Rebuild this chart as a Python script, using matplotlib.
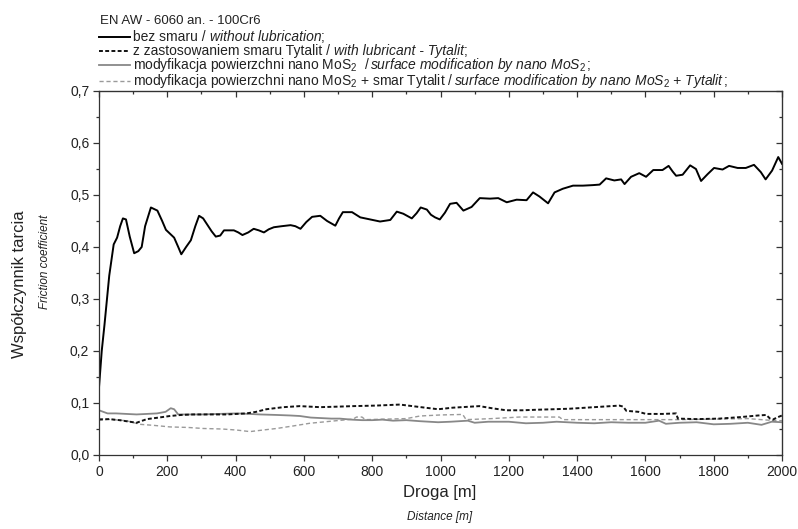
import matplotlib
matplotlib.use("Agg")
import matplotlib.pyplot as plt
from matplotlib.lines import Line2D
from matplotlib.ticker import MultipleLocator, FuncFormatter

plt.rcParams["font.family"] = ["Liberation Sans", "DejaVu Sans"]
plt.rcParams["mathtext.fontset"] = "custom"
plt.rcParams["mathtext.rm"] = "Liberation Sans"
plt.rcParams["mathtext.it"] = "Liberation Sans:italic"

# bez smaru / without lubrication
dist_dry = [0, 8, 16, 30, 43, 53, 62, 70, 79, 90, 103, 115, 125, 135, 152, 171, 185, 196,
            220, 232, 241, 255, 269, 282, 293, 305, 317, 330, 342, 355, 366, 380, 395, 408,
            420, 437, 453, 468, 483, 497, 512, 535, 561, 575, 590, 607, 624, 648, 668, 692,
            703, 714, 741, 765, 794, 823, 853, 872, 891, 916, 930, 942, 960, 972, 984, 998,
            1013, 1028, 1047, 1067, 1091, 1115, 1145, 1169, 1194, 1223, 1252, 1271, 1290,
            1315, 1334, 1358, 1388, 1417, 1446, 1466, 1485, 1509, 1529, 1539, 1558, 1582,
            1602, 1623, 1650, 1668, 1680, 1690, 1709, 1731, 1748, 1763, 1782, 1801, 1826,
            1845, 1870, 1894, 1918, 1938, 1952, 1971, 1989, 2000]
mu_dry = [0.13, 0.20, 0.25, 0.345, 0.405, 0.418, 0.44, 0.455, 0.453, 0.42, 0.388, 0.392,
          0.40, 0.44, 0.476, 0.470, 0.45, 0.433, 0.418, 0.40, 0.386, 0.40, 0.413, 0.44, 0.460,
          0.455, 0.443, 0.43, 0.420, 0.422, 0.432, 0.432, 0.432, 0.428, 0.423, 0.428, 0.435,
          0.432, 0.428, 0.434, 0.438, 0.440, 0.442, 0.440, 0.435, 0.448, 0.458, 0.460, 0.450,
          0.441, 0.455, 0.467, 0.467, 0.457, 0.453, 0.449, 0.452, 0.468, 0.464, 0.455, 0.465,
          0.476, 0.472, 0.462, 0.457, 0.453, 0.466, 0.483, 0.485, 0.470, 0.477, 0.494, 0.493,
          0.494, 0.486, 0.491, 0.490, 0.505, 0.497, 0.484, 0.505, 0.512, 0.518, 0.518, 0.519,
          0.520, 0.532, 0.528, 0.530, 0.521, 0.535, 0.542, 0.535, 0.548, 0.548, 0.556, 0.545,
          0.537, 0.539, 0.557, 0.550, 0.527, 0.540, 0.552, 0.549, 0.556, 0.552, 0.552, 0.558,
          0.544, 0.530, 0.547, 0.573, 0.560]

# z zastosowaniem smaru Tytalit / with lubricant - Tytalit
dist_lub = [0, 30, 60, 90, 110, 140, 175, 208, 240, 276, 320, 374, 432, 460, 490, 540, 588,
            647, 700, 744, 810, 881, 930, 993, 1036, 1114, 1150, 1192, 1240, 1280, 1330, 1378,
            1450, 1524, 1535, 1544, 1580, 1602, 1650, 1690, 1695, 1750, 1817, 1880, 1930,
            1954, 1965, 1973, 1985, 2000]
mu_lub = [0.068, 0.069, 0.067, 0.064, 0.062, 0.069, 0.072, 0.075, 0.077, 0.078, 0.078,
          0.078, 0.080, 0.083, 0.088, 0.092, 0.094, 0.092, 0.093, 0.094, 0.095, 0.097, 0.093,
          0.088, 0.091, 0.094, 0.090, 0.086, 0.086, 0.087, 0.088, 0.089, 0.092, 0.095, 0.093,
          0.085, 0.083, 0.079, 0.079, 0.080, 0.070, 0.069, 0.070, 0.073, 0.076, 0.077, 0.070,
          0.068, 0.072, 0.076]

# modyfikacja powierzchni nano MoS2
dist_mos = [0, 25, 50, 80, 110, 140, 170, 195, 210, 220, 232, 260, 300, 350, 403, 440, 471,
            520, 560, 588, 620, 650, 680, 705, 740, 770, 800, 830, 861, 900, 940, 993, 1030,
            1080, 1100, 1140, 1200, 1250, 1300, 1340, 1400, 1450, 1500, 1550, 1600, 1640,
            1660, 1700, 1750, 1800, 1850, 1900, 1940, 1970, 2000]
mu_mos = [0.086, 0.080, 0.080, 0.079, 0.078, 0.079, 0.080, 0.083, 0.090, 0.088, 0.078,
          0.078, 0.078, 0.079, 0.080, 0.079, 0.078, 0.077, 0.076, 0.075, 0.072, 0.071, 0.070,
          0.070, 0.068, 0.067, 0.067, 0.068, 0.066, 0.067, 0.065, 0.063, 0.064, 0.066, 0.062,
          0.064, 0.064, 0.061, 0.062, 0.064, 0.062, 0.061, 0.063, 0.062, 0.062, 0.066, 0.060,
          0.062, 0.063, 0.059, 0.060, 0.062, 0.058, 0.064, 0.063]

# modyfikacja powierzchni nano MoS2 + smar Tytalit
dist_mos_lub = [0, 40, 80, 120, 160, 208, 260, 305, 360, 403, 442, 480, 520, 570, 617, 680,
                744, 754, 770, 780, 840, 900, 940, 1000, 1065, 1075, 1150, 1231, 1348, 1358,
                1500, 1622, 1700, 1800, 1900, 1960, 2000]
mu_mos_lub = [0.070, 0.068, 0.066, 0.059, 0.057, 0.054, 0.053, 0.051, 0.050, 0.048, 0.045,
              0.048, 0.051, 0.056, 0.061, 0.065, 0.069, 0.073, 0.073, 0.068, 0.069, 0.070,
              0.075, 0.077, 0.078, 0.068, 0.070, 0.073, 0.073, 0.068, 0.068, 0.068, 0.068,
              0.069, 0.070, 0.067, 0.066]

W, H = 798.0, 529.0

fig = plt.figure(figsize=(7.98, 5.29), dpi=100)
ax = fig.add_axes([99 / W, 1 - 455 / H, 683 / W, 364 / H])

ax.plot(dist_mos_lub, mu_mos_lub, color="#9a9a9a", lw=1.0, dashes=(3, 2))
ax.plot(dist_mos, mu_mos, color="#888888", lw=1.3)
ax.plot(dist_lub, mu_lub, color="#111111", lw=1.4, dashes=(2, 1.2))
ax.plot(dist_dry, mu_dry, color="black", lw=1.4)

ax.set_xlim(0, 2000)
ax.set_ylim(0, 0.7)
ax.xaxis.set_major_locator(MultipleLocator(200))
ax.xaxis.set_minor_locator(MultipleLocator(100))
ax.yaxis.set_major_locator(MultipleLocator(0.1))
ax.yaxis.set_minor_locator(MultipleLocator(0.05))
ax.yaxis.set_major_formatter(FuncFormatter(lambda v, p: ("%.1f" % v).replace(".", ",")))
ax.tick_params(which="both", direction="out", labelsize=10, colors="#333333",
               labelcolor="#222222", width=0.9)
ax.tick_params(which="major", length=4, pad=3)
ax.tick_params(which="minor", length=2.5)
for s in ax.spines.values():
    s.set_color("#333333")
    s.set_linewidth(0.9)

# ticks inside on top and right
ax_top = ax.secondary_xaxis("top")
ax_top.xaxis.set_major_locator(MultipleLocator(200))
ax_top.xaxis.set_minor_locator(MultipleLocator(100))
ax_top.tick_params(which="both", direction="in", labeltop=False, colors="#333333", width=0.9)
ax_top.tick_params(which="major", length=4)
ax_top.tick_params(which="minor", length=2.5)
ax_right = ax.secondary_yaxis("right")
ax_right.yaxis.set_major_locator(MultipleLocator(0.1))
ax_right.yaxis.set_minor_locator(MultipleLocator(0.05))
ax_right.tick_params(which="both", direction="in", labelright=False, colors="#333333", width=0.9)
ax_right.tick_params(which="major", length=4)
ax_right.tick_params(which="minor", length=2.5)

fig.text(440 / W, 1 - 492 / H, "Droga [m]", ha="center", va="center", size=12, color="#222222")
fig.text(440 / W, 1 - 517 / H, "Distance [m]", ha="center", va="center", size=8.5,
         style="italic", color="#222222")
fig.text(20 / W, 1 - 284 / H, "Współczynnik tarcia", ha="center", va="center", size=12,
         rotation=90, color="#222222")
fig.text(45 / W, 1 - 262 / H, "Friction coefficient", ha="center", va="center", size=8.5,
         rotation=90, style="italic", color="#222222")

fig.text(100 / W, 1 - 21 / H, "EN AW - 6060 an. - 100Cr6", ha="left", va="center",
         size=9.5, color="#222222")

legend_rows = [
    (37, dict(color="black", lw=1.4), [("bez smaru / ", "normal"), ("without lubrication", "italic"), (";", "normal")]),
    (51, dict(color="#111111", lw=1.4, dashes=(2, 1.2)), [("z zastosowaniem smaru Tytalit / ", "normal"),
                                                          ("with lubricant - Tytalit", "italic"), (";", "normal")]),
    (65, dict(color="#888888", lw=1.3), [("modyfikacja powierzchni nano MoS$_2$  / ", "normal"),
                                         ("surface modification by nano MoS$_2$ ", "italic"), (";", "normal")]),
    (81, dict(color="#9a9a9a", lw=1.0, dashes=(3, 2)), [("modyfikacja powierzchni nano MoS$_2$ + smar Tytalit / ", "normal"),
                                                        ("surface modification by nano MoS$_2$ + Tytalit", "italic"),
                                                        (";", "normal")]),
]

renderer = fig.canvas.get_renderer()
for y_px, style, pieces in legend_rows:
    yf = 1 - y_px / H
    fig.add_artist(Line2D([99 / W, 130 / W], [yf, yf], transform=fig.transFigure, **style))
    x_px = 133
    for s, st in pieces:
        t = fig.text(x_px / W, yf - 4 / H, s, ha="left", va="baseline", size=10,
                     style=st, color="#222222")
        x_px = t.get_window_extent(renderer).x1

fig.savefig("out.png", dpi=100)
